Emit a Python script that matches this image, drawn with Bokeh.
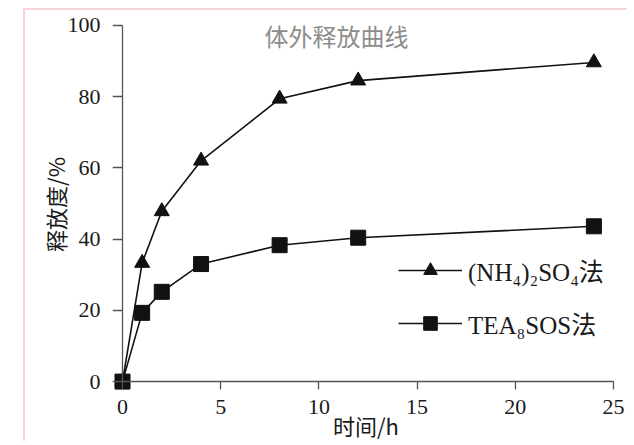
from bokeh.plotting import figure
from bokeh.models import Range1d, Label, Legend, LegendItem, LinearAxis, FixedTicker
from bokeh.embed import file_html
from bokeh.resources import INLINE

# ---- data ----
time_h = [0, 1, 2, 4, 8, 12, 24]
nh4_release = [0, 33.3, 47.8, 62.0, 79.4, 84.5, 89.6]
tea_release = [0, 19.3, 25.2, 33.0, 38.3, 40.4, 43.6]
x_ticks = [0, 5, 10, 15, 20, 25]
y_ticks = [0, 20, 40, 60, 80, 100]
title_text = "体外释放曲线"
x_label = "时间/h"
y_label = "释放度/%"
label_nh4 = "(NH₄)₂SO₄法"
label_tea = "TEA₈SOS法"

SERIF = "'Liberation Serif', 'Noto Sans CJK SC'"
TICK_FONT = "Times New Roman, Liberation Serif, serif"
CJK = "'Noto Sans CJK SC'"
AXIS_GRAY = "#555555"
INK = "#1a1a1a"

p = figure(width=604, height=433, output_backend="svg", toolbar_location=None,
           x_range=Range1d(-0.509, 25.305), y_range=Range1d(-2.5, 101.94),
           min_border_left=87, min_border_right=10, min_border_top=8, min_border_bottom=49)
p.styles = {"margin-left": "23px", "margin-top": "8px",
            "border-left": "2px solid #f9d3d7", "border-top": "2px solid #f9d3d7"}
p.grid.visible = False
p.outline_line_color = None
p.background_fill_color = "white"
p.border_fill_color = "white"

# standard axes (frame edges): only tick labels and axis titles
xlab_axis = p.xaxis[0]
ylab_axis = p.yaxis[0]
for ax in (xlab_axis, ylab_axis):
    ax.update(axis_line_color=None, major_tick_line_color=None, minor_tick_line_color=None,
              major_tick_in=0, major_tick_out=0, minor_tick_in=0, minor_tick_out=0,
              major_label_text_font=TICK_FONT, major_label_text_font_size="22px",
              major_label_text_font_style="normal", major_label_text_color=INK,
              axis_label_text_font=CJK, axis_label_text_font_size="22px",
              axis_label_text_font_style="normal", axis_label_text_color=INK)

xlab_axis.ticker = FixedTicker(ticks=x_ticks)
ylab_axis.ticker = FixedTicker(ticks=y_ticks)
xlab_axis.major_label_standoff = 9
ylab_axis.major_label_standoff = 12
xlab_axis.axis_label = x_label
ylab_axis.axis_label = y_label
xlab_axis.axis_label_standoff = -8
ylab_axis.axis_label_standoff = -6

# axis lines and ticks that cross at the data origin (no labels of their own)
def origin_axis(ticks, bounds, tick_len):
    return LinearAxis(fixed_location=0, ticker=FixedTicker(ticks=ticks), bounds=bounds,
                      axis_line_color=AXIS_GRAY, axis_line_width=1.3,
                      major_tick_line_color=AXIS_GRAY, major_tick_line_width=1.3,
                      major_tick_in=tick_len, major_tick_out=0, minor_tick_line_color=None,
                      minor_tick_in=0, minor_tick_out=0,
                      major_label_text_color=None, major_label_text_font_size="1px",
                      major_label_standoff=0)

p.add_layout(origin_axis(x_ticks, (0, 25), 8), "above")
p.add_layout(origin_axis(y_ticks, (0, 100), 10), "right")

l1 = p.line(time_h, nh4_release, line_color="#111111", line_width=1.6)
s1 = p.scatter(time_h, nh4_release, marker="triangle", size=15,
               fill_color="#111111", line_color="#111111")
l2 = p.line(time_h, tea_release, line_color="#111111", line_width=1.6)
s2 = p.scatter(time_h, tea_release, marker="square", size=15,
               fill_color="#111111", line_color="#111111")

legend = Legend(items=[LegendItem(label=label_nh4, renderers=[l1, s1]),
                       LegendItem(label=label_tea, renderers=[l2, s2])],
                location=(286, 49), orientation="vertical")
legend.border_line_color = None
legend.background_fill_color = None
legend.padding = 0
legend.margin = 0
legend.spacing = 17
legend.glyph_width = 64
legend.glyph_height = 34
legend.label_standoff = 6
legend.label_text_font = SERIF
legend.label_text_font_size = "25px"
legend.label_text_color = INK
p.add_layout(legend, "center")

p.add_layout(Label(x=10.9, y=97.1, text=title_text, text_align="center",
                   text_baseline="middle", text_font=CJK,
                   text_font_size="24px", text_color="#8c8c8c"))

html = file_html(p, INLINE)
html = html.replace("<body>", '<body style="background: linear-gradient(#fdf1f2 0px, #fdf1f2 3px, #ffffff 3px) no-repeat;">', 1)
open("out.html", "w").write(html)
